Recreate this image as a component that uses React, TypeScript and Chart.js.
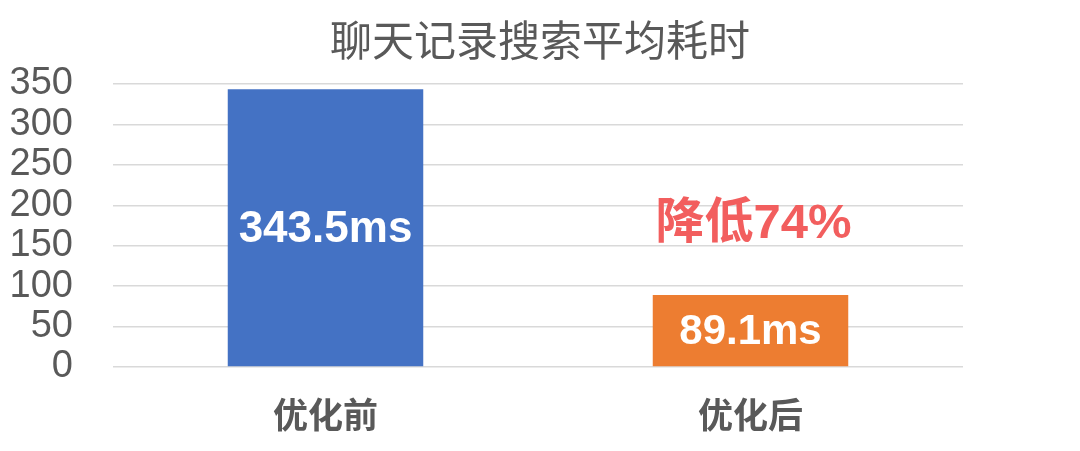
import React, { useRef, useEffect } from 'react';
import { Chart, registerables } from 'chart.js';

Chart.register(...registerables);

const titleText = '聊天记录搜索平均耗时';
const categories = ['优化前', '优化后'];
const values = [343.5, 89.1];
const valueLabels = ['343.5ms', '89.1ms'];
const barColors = ['#4472C4', '#ED7D31'];
const yTicks = [0, 50, 100, 150, 200, 250, 300, 350];
const noteText = '降低74%';
const noteValue = 176;

const FONT = "'Liberation Sans', Arial, 'Noto Sans CJK SC', sans-serif";

const labelPlugin = {
  id: 'barLabels',
  afterDatasetsDraw(chart: any) {
    const { ctx } = chart;
    const meta = chart.getDatasetMeta(0);
    ctx.save();
    ctx.textAlign = 'center';
    ctx.textBaseline = 'middle';
    meta.data.forEach((bar: any, i: number) => {
      ctx.fillStyle = '#ffffff';
      ctx.font = `bold ${i === 0 ? 44 : 42}px ${FONT}`;
      ctx.fillText(valueLabels[i], bar.x, (bar.y + bar.base) / 2 + 2);
    });
    // note above the second bar
    const last = meta.data[meta.data.length - 1];
    ctx.fillStyle = '#F25E5E';
    ctx.font = `bold 49px ${FONT}`;
    ctx.fillText(noteText, last.x + 3, chart.scales.y.getPixelForValue(noteValue));
    // title centred on the whole canvas
    ctx.fillStyle = '#595959';
    ctx.font = `42px ${FONT}`;
    ctx.fillText(titleText, chart.width / 2, 44);
    ctx.restore();
  },
};

const App: React.FC = () => {
  const canvasRef = useRef<HTMLCanvasElement>(null);
  const chartRef = useRef<Chart | null>(null);

  useEffect(() => {
    if (!canvasRef.current) return;
    const ctx = canvasRef.current.getContext('2d');
    if (!ctx) return;
    if (chartRef.current) chartRef.current.destroy();

    chartRef.current = new Chart(ctx, {
      type: 'bar',
      data: {
        labels: categories,
        datasets: [{
          data: values,
          backgroundColor: barColors,
          barPercentage: 0.46,
          categoryPercentage: 1,
        }],
      },
      options: {
        animation: false,
        responsive: true,
        maintainAspectRatio: false,
        layout: { padding: { left: 0, right: 117, top: 84, bottom: 0 } },
        plugins: {
          legend: { display: false },
          tooltip: { enabled: false },
          title: { display: false },
        },
        scales: {
          x: {
            grid: { display: false },
            border: { display: false },
            afterFit: (s: any) => {
              s.height = 84;
            },
            ticks: {
              color: '#595959',
              padding: 22,
              font: { family: FONT, size: 35, weight: 'bold' },
            },
          },
          y: {
            min: 0,
            max: 350,
            afterBuildTicks: (s: any) => {
              s.ticks = yTicks.map((v) => ({ value: v }));
            },
            afterFit: (s: any) => {
              s.width = 113;
            },
            grid: { color: '#D9D9D9', lineWidth: 1.5, drawTicks: false },
            border: { display: false },
            ticks: {
              autoSkip: false,
              color: '#595959',
              padding: 40,
              font: { family: FONT, size: 38 },
            },
          },
        },
      },
      plugins: [labelPlugin],
    });

    return () => {
      if (chartRef.current) {
        chartRef.current.destroy();
        chartRef.current = null;
      }
    };
  }, []);

  return (
    <div style={{ position: 'absolute', left: 0, top: 0, width: 1080, height: 451, background: '#fff' }}>
      <canvas ref={canvasRef} />
    </div>
  );
};

export default App;
